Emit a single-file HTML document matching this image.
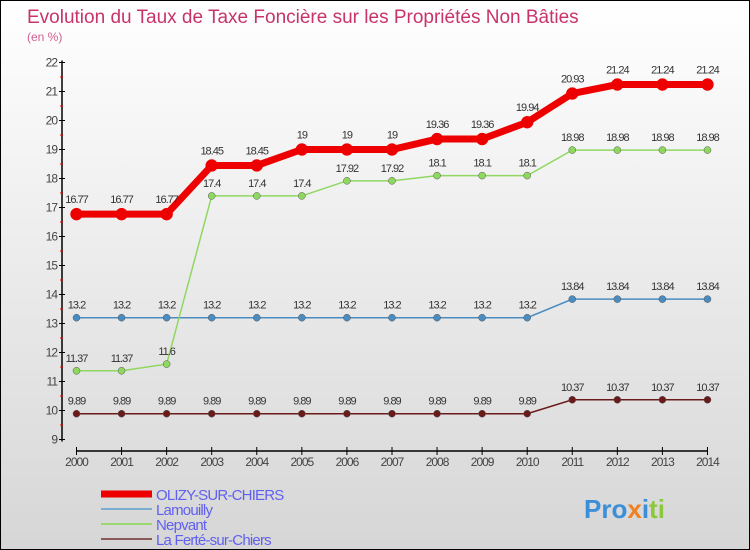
<!DOCTYPE html>
<html><head><meta charset="utf-8"><style>
body{margin:0}
#c{position:relative;width:748px;height:548px;border:1px solid #000;background:linear-gradient(#fff,#d6d6d6);font-family:"Liberation Sans",sans-serif;overflow:hidden}
</style></head><body>
<div id="c">
<svg width="748" height="548" id="svg">
<text x="26" y="22" font-size="19" fill="#c8336a">Evolution du Taux de Taxe Foncière sur les Propriétés Non Bâties</text>
<text x="26" y="40" font-size="12" fill="#d06090">(en %)</text>
<g id="axes"></g>
<g id="series"></g>
<g id="legend"></g>
<text x="583" y="517" font-size="26" font-weight="bold"><tspan fill="#3a8fd8">Pro</tspan><tspan fill="#f08020">x</tspan><tspan fill="#3a8fd8">i</tspan><tspan fill="#8cc83c">ti</tspan></text>
</svg>
</div>
<script>
const years=[2000,2001,2002,2003,2004,2005,2006,2007,2008,2009,2010,2011,2012,2013,2014];
const olizy=[16.77,16.77,16.77,18.45,18.45,19,19,19,19.36,19.36,19.94,20.93,21.24,21.24,21.24];
const lamouilly=[13.2,13.2,13.2,13.2,13.2,13.2,13.2,13.2,13.2,13.2,13.2,13.84,13.84,13.84,13.84];
const nepvant=[11.37,11.37,11.6,17.4,17.4,17.4,17.92,17.92,18.1,18.1,18.1,18.98,18.98,18.98,18.98];
const ferte=[9.89,9.89,9.89,9.89,9.89,9.89,9.89,9.89,9.89,9.89,9.89,10.37,10.37,10.37,10.37];
const yTicks=[9,10,11,12,13,14,15,16,17,18,19,20,21,22];
const NS="http://www.w3.org/2000/svg";
const X=i=>75.5+i*45.07, Y=v=>438.5-(v-9)*29;
function mk(t,a,p){const e=document.createElementNS(NS,t);for(const k in a)e.setAttribute(k,a[k]);p.appendChild(e);return e;}
const ax=document.getElementById('axes');
let l=mk('line',{x1:61,y1:Y(22)-2,x2:61,y2:Y(9)+2,stroke:'#000','stroke-width':1.5},ax);


yTicks.forEach(v=>{
 mk('line',{x1:58,x2:64,y1:Y(v),y2:Y(v),stroke:'#000'},ax);
 if(v<22)mk('line',{x1:59,x2:62,y1:Y(v+0.5),y2:Y(v+0.5),stroke:'#e00'},ax);
 const t=mk('text',{x:56,y:Y(v)+4,'text-anchor':'end','font-size':12,fill:'#444','letter-spacing':'-1'},ax);t.textContent=v;
 
 
});
l=mk('line',{x1:X(0),y1:450,x2:X(14),y2:450,stroke:'#000','stroke-width':1.5},ax);


years.forEach((y,i)=>{
 mk('line',{x1:X(i),x2:X(i),y1:446,y2:454,stroke:'#000'},ax);
 const t=mk('text',{x:X(i),y:465,'text-anchor':'middle','font-size':12,fill:'#444','letter-spacing':'-1'},ax);t.textContent=y;
 
 
});
const S=document.getElementById('series');
const series=[[ferte,'#6b1a1a',1.5,3.5,'ferte'],[lamouilly,'#4a8cc0',1.5,3.5,'lamouilly'],[nepvant,'#8fd860',1.5,3.5,'nepvant'],[olizy,'#ee0000',7,6,'olizy']];
series.forEach(([d,c,w,r,n])=>{
 const g=mk('g',{},S);
 
 
 mk('polyline',{points:d.map((v,i)=>X(i)+','+Y(v)).join(' '),fill:'none',stroke:c,'stroke-width':w},g);
 d.forEach((v,i)=>{
  const p=mk('circle',{cx:X(i),cy:Y(v),r:r,fill:c,stroke:n==='olizy'?c:'#555','stroke-width':0.5},g);
  
  
  const t=mk('text',{x:X(i),y:Y(v)-(n==='olizy'?11:9),'text-anchor':'middle','font-size':11,fill:'#333','letter-spacing':'-1'},g);t.textContent=v;
  
  
 });
});
const L=document.getElementById('legend');
[['OLIZY-SUR-CHIERS','#ee0000',7,493],['Lamouilly','#7aaed0',2,508],['Nepvant','#9ad870',2,523],['La Ferté-sur-Chiers','#8a5a5a',2,538]].forEach(([n,c,w,y])=>{
 const g=mk('g',{},L);
 
 
 mk('line',{x1:100,x2:151,y1:y,y2:y,stroke:c,'stroke-width':w},g);
 const t=mk('text',{x:155,y:y+6,'font-size':15,fill:'#6060f0','letter-spacing':'-0.8'},g);t.textContent=n;
});
</script>
</body></html>
